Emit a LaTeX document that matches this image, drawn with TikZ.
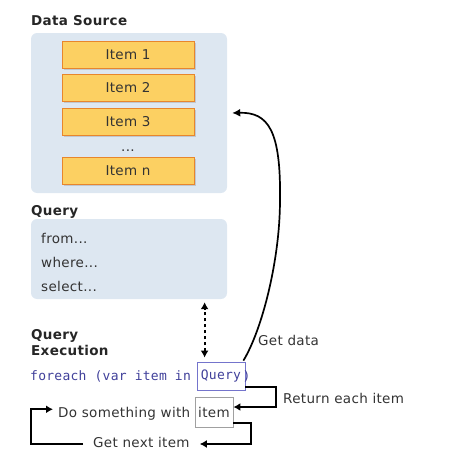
\documentclass[tikz,border=0pt]{standalone}
\usepackage{fontspec}
\setmainfont{DejaVu Sans}[LetterSpace=2.5]
\newfontfamily\codefont[LetterSpace=2]{DejaVu Sans Mono}
\usetikzlibrary{arrows.meta,shadows}
\definecolor{panel}{HTML}{DDE7F1}
\definecolor{itemfill}{HTML}{FCD062}
\definecolor{itemdraw}{HTML}{E8862C}
\definecolor{txt}{HTML}{333333}
\definecolor{codecol}{HTML}{40409A}
\definecolor{qdraw}{HTML}{7474CC}
\definecolor{idraw}{HTML}{A0A0A0}
\begin{document}
\begin{tikzpicture}[x=1pt,y=-1pt,
  font=\fontsize{13.5}{16}\selectfont, text=txt,
  panelbox/.style={fill=panel, rounded corners=6pt, inner sep=0},
  itembox/.style={draw=itemdraw, fill=itemfill, line width=1pt, minimum width=132pt, minimum height=27pt, inner sep=0,
    drop shadow={shadow xshift=1.5pt, shadow yshift=-1.5pt, opacity=0.3, fill=gray}},
  title/.style={font=\fontsize{13.5}{16}\selectfont\bfseries, anchor=base west, inner sep=0, text=black!85},
  lbl/.style={anchor=base west, inner sep=0},
  codetxt/.style={font=\fontsize{13}{15}\codefont, text=codecol, anchor=base west, inner sep=0},
  arr/.style={line width=2pt, -{Latex[length=7pt,width=8pt]}},
  darr/.style={line width=2pt, dash pattern=on 3.5pt off 2.5pt, {Latex[length=7pt,width=8pt]}-{Latex[length=7pt,width=8pt]}},
  curvearr/.style={line width=1.7pt, -{Latex[length=8pt,width=8pt]}}
]
\useasboundingbox (0,0) rectangle (475,471);

% Data source
\node[title] (dstitle) at (31,26) {Data Source};
\node[panelbox, minimum width=196pt, minimum height=160pt] (ds) at (129,113) {};
\node[itembox] (i1) at (128,55) {Item 1};
\node[itembox] (i2) at (128,88) {Item 2};
\node[itembox] (i3) at (128,121.5) {Item 3};
\node[inner sep=0, anchor=base] (dots) at (128,151) {...};
\node[itembox] (in) at (128,171) {Item n};

% Query
\node[title] (qtitle) at (31,215) {Query};
\node[panelbox, minimum width=196pt, minimum height=80pt] (qp) at (129,259) {};
\node[lbl] (from) at (41,243) {from...};
\node[lbl] (where) at (41,267) {where...};
\node[lbl] (select) at (41,291) {select...};

% Query execution
\node[title] (qe1) at (31,339) {Query};
\node[title] (qe2) at (31,355) {Execution};
\node[codetxt] (fe) at (30,380) {foreach (var item in};
\node[draw=qdraw, line width=0.8pt, minimum width=48pt, minimum height=28pt, inner sep=0, text height=9.5pt, text depth=3pt,
  font=\fontsize{13}{15}\codefont, text=codecol] (qbox) at (221,376) {Query};
\node[codetxt] (paren) at (242.5,380) {)};

\node[lbl] (dosth) at (58,417) {Do something with};
\node[draw=idraw, line width=0.8pt, minimum width=38pt, minimum height=30pt, inner sep=0] (ibox) at (214,412) {item};
\node[lbl] (gni) at (93,447) {Get next item};
\node[lbl] (rei) at (283,403) {Return each item};
\node[lbl] (gd) at (258,345) {Get data};

\coordinate (lp) at (31,444);

% connectors
\draw[darr] ([xshift=8pt,yshift=4pt]qbox.north west) -- ([xshift=8pt,yshift=-3pt]qbox.north west |- qp.south);
\draw[curvearr] ([xshift=-2pt,yshift=1pt]qbox.north east) .. controls (262,330) and (280,260) .. (280,200)
   .. controls (281,130) and (268,112) .. ([xshift=5pt]ds.east);
\draw[arr] ([yshift=3pt]qbox.south east) -- ++(31,0) |- ([yshift=5pt]ibox.east);
\draw[arr] ([yshift=4pt]ibox.south east) -- ++(18,0) |- ([xshift=10pt]gni.east |- lp);
\draw[arr] ([xshift=-10pt]gni.west |- lp) -- (lp) |- ([xshift=-5pt,yshift=4pt]dosth.west);
\end{tikzpicture}
\end{document}
